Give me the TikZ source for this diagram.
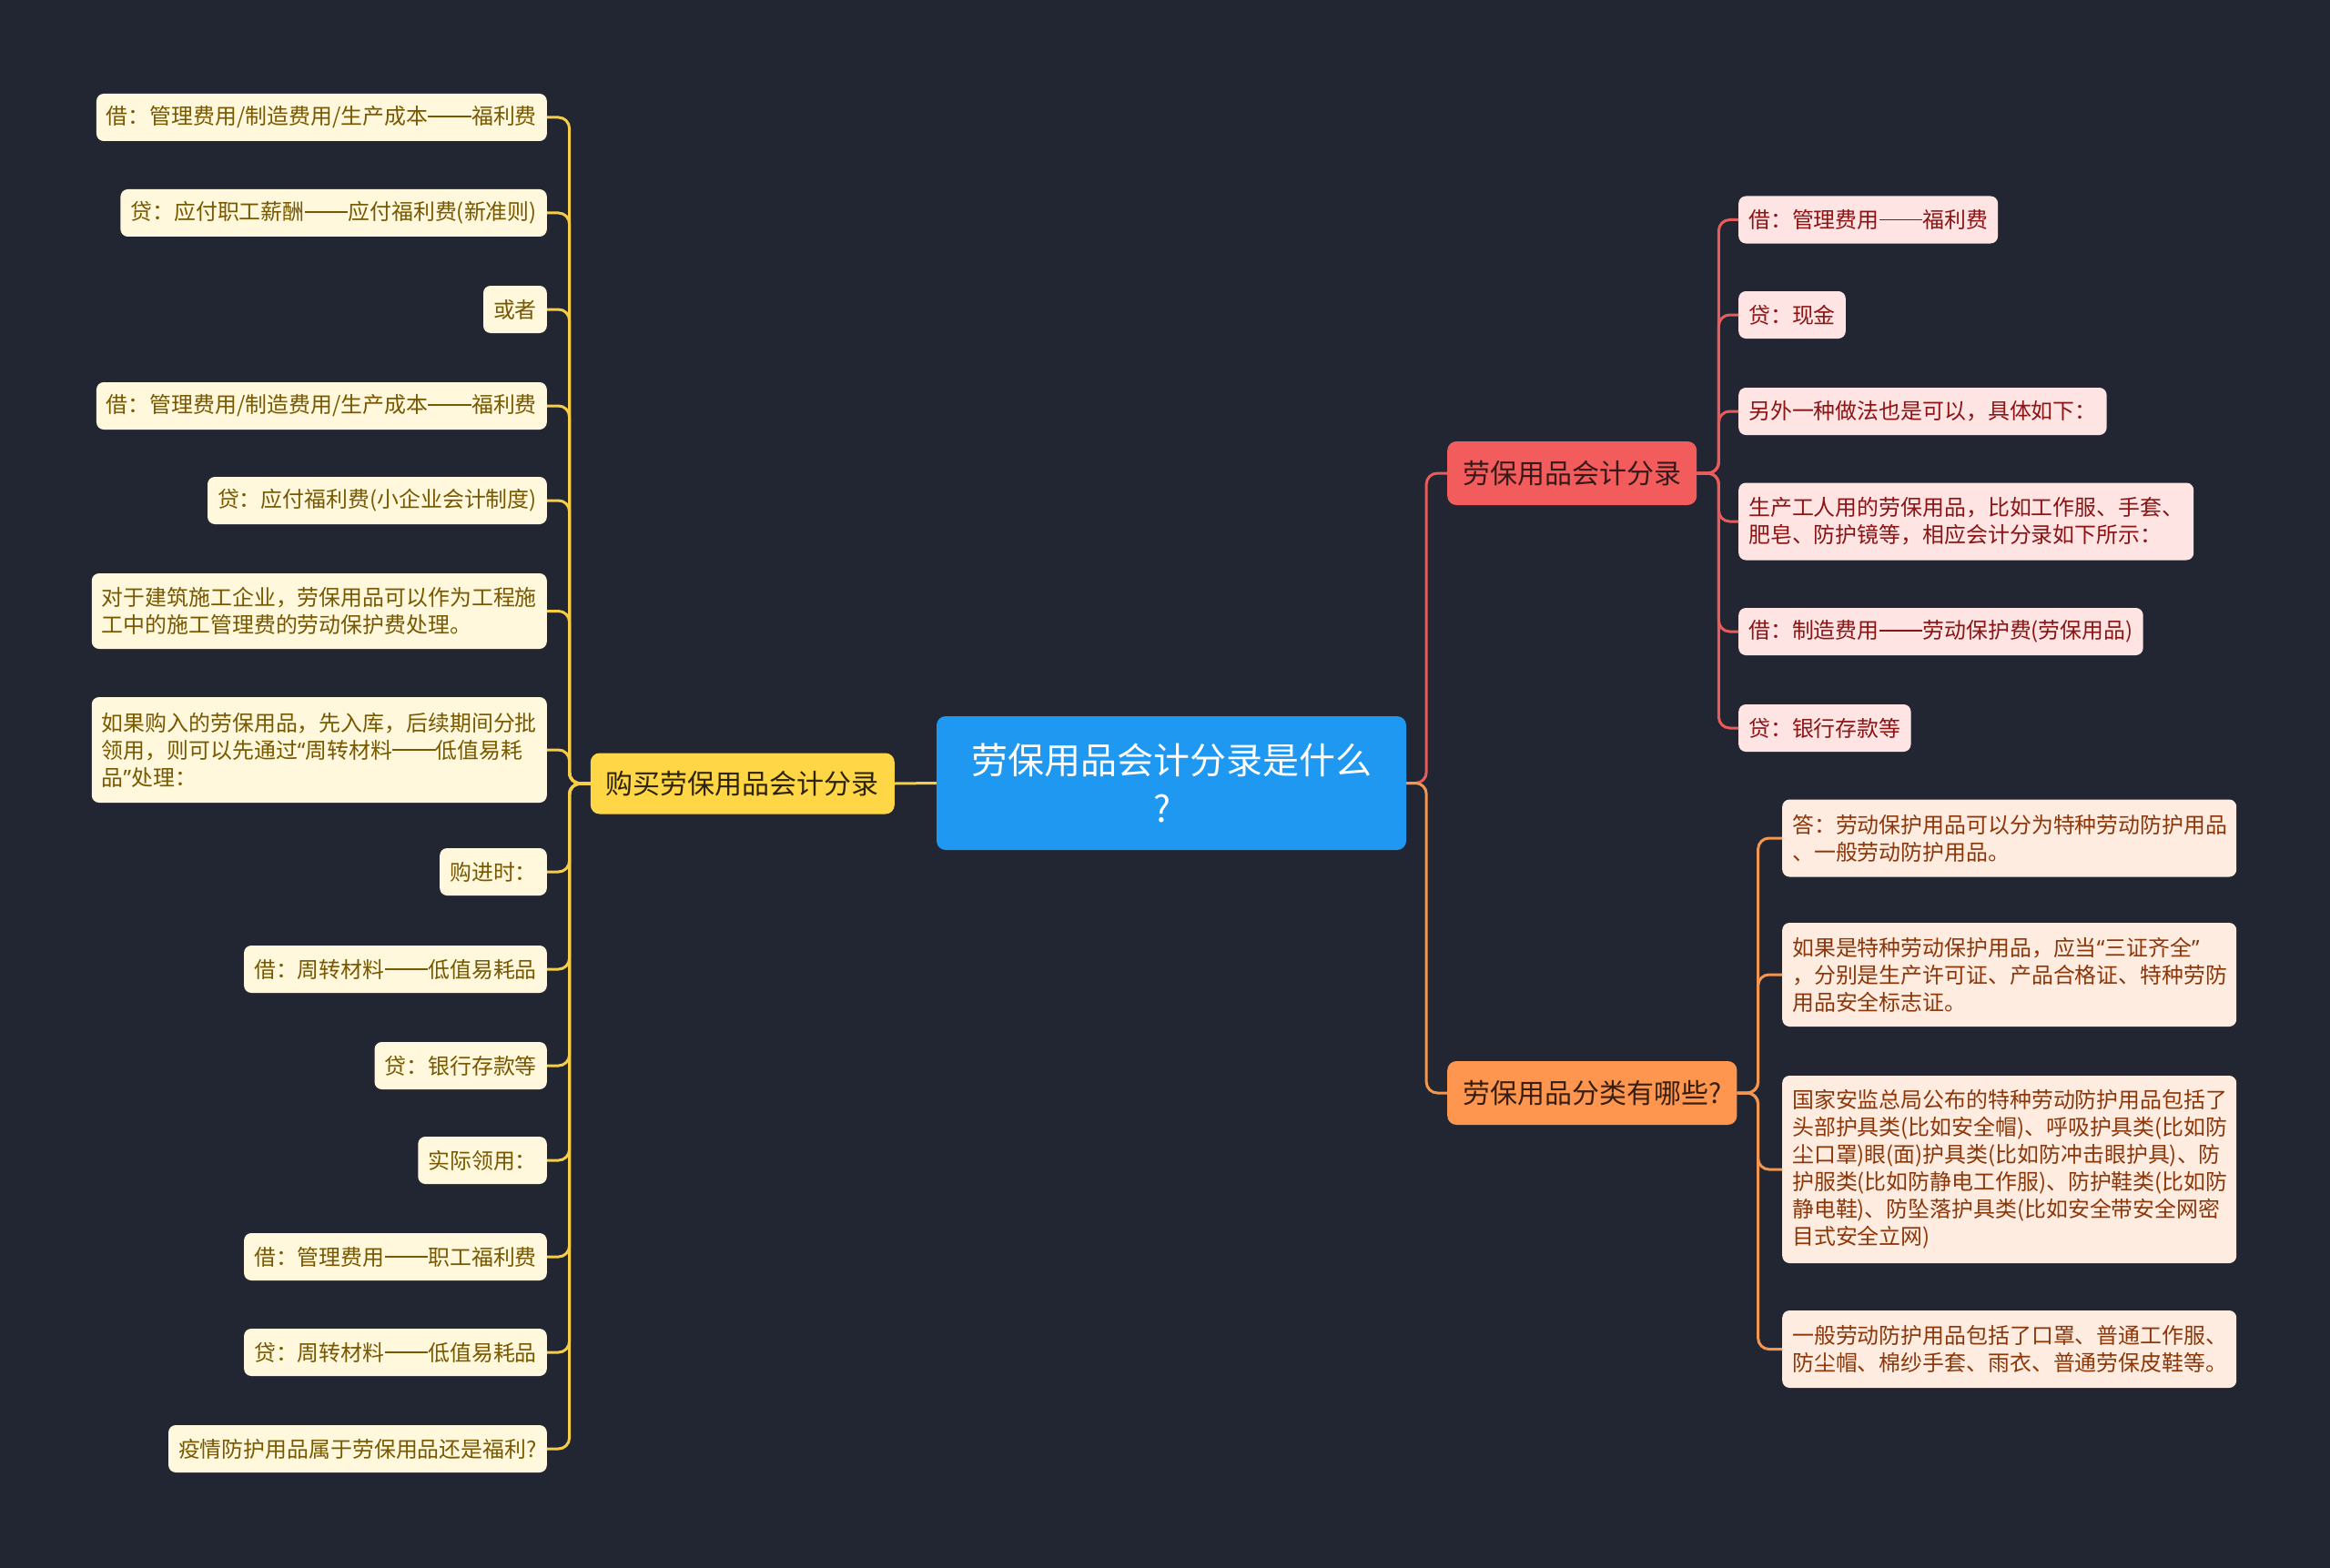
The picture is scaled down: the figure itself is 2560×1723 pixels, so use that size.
\documentclass[tikz,border=0pt]{standalone}
\usepackage{fontspec}
\setmainfont{Noto Sans CJK SC}
\newfontfamily\latinq{Noto Sans}
\newcommand{\dd}{\rule[0.34em]{2em}{0.07em}}
\newcommand{\myoq}{{\latinq “}}
\newcommand{\mycq}{{\latinq ”}}
\definecolor{bg}{RGB}{34,37,50}
\definecolor{cblue}{RGB}{30,152,240}
\definecolor{yfill}{RGB}{255,214,70}
\definecolor{ytext}{RGB}{45,35,10}
\definecolor{yline}{RGB}{245,205,70}
\definecolor{yleaf}{RGB}{255,248,220}
\definecolor{yleaftext}{RGB}{120,88,0}
\definecolor{rfill}{RGB}{243,92,92}
\definecolor{rtext}{RGB}{55,25,25}
\definecolor{rline}{RGB}{232,92,92}
\definecolor{rleaf}{RGB}{255,228,228}
\definecolor{rleaftext}{RGB}{140,20,20}
\definecolor{ofill}{RGB}{255,150,80}
\definecolor{otext}{RGB}{55,30,15}
\definecolor{oline}{RGB}{242,150,80}
\definecolor{oleaf}{RGB}{255,236,224}
\definecolor{oleaftext}{RGB}{140,55,10}
\begin{document}
\begin{tikzpicture}[x=1pt,y=-1pt,
  leaf/.style={rounded corners=8pt, inner xsep=11pt, inner ysep=4pt, minimum height=52pt, align=left, font=\fontsize{23.9}{30}\selectfont},
  yleafs/.style={leaf, fill=yleaf, text=yleaftext, anchor=east},
  rleafs/.style={leaf, fill=rleaf, text=rleaftext, anchor=west},
  oleafs/.style={leaf, fill=oleaf, text=oleaftext, anchor=west, text width=477pt},
  branch/.style={rounded corners=10pt, inner xsep=17pt, inner ysep=4pt, font=\fontsize{30}{36}\selectfont},
  conn/.style={line width=3pt, rounded corners=12pt},
]
\fill[bg] (0,0) rectangle (2560,1723);
\useasboundingbox (0,0) rectangle (2560,1723);

% central
\node[fill=cblue, text=white, rounded corners=10pt, minimum width=516pt, minimum height=147pt, align=center, font=\fontsize{40}{53}\selectfont] (c) at (1287,860.5) {劳保用品会计分录是什么\\\makebox[40pt][l]{?}};

% branches
\node[branch, fill=yfill, text=ytext, minimum height=67pt, anchor=east] (yb) at (983,861) {购买劳保用品会计分录};
\node[branch, fill=rfill, text=rtext, minimum height=70pt, anchor=west] (rb) at (1590,520) {劳保用品会计分录};
\node[branch, fill=ofill, text=otext, minimum height=70pt, anchor=west] (ob) at (1590,1201) {劳保用品分类有哪些?};

% left leaves
\node[yleafs] (l1) at (601,129) {借：管理费用/制造费用/生产成本\dd 福利费};
\node[yleafs] (l2) at (601,234) {贷：应付职工薪酬\dd 应付福利费(新准则)};
\node[yleafs] (l3) at (601,340) {或者};
\node[yleafs] (l4) at (601,446) {借：管理费用/制造费用/生产成本\dd 福利费};
\node[yleafs] (l5) at (601,550) {贷：应付福利费(小企业会计制度)};
\node[yleafs, minimum height=83pt] (l6) at (601,671.5) {对于建筑施工企业，劳保用品可以作为工程施\\工中的施工管理费的劳动保护费处理。};
\node[yleafs, minimum height=116pt] (l7) at (601,824) {如果购入的劳保用品，先入库，后续期间分批\\领用，则可以先通过\myoq 周转材料\dd 低值易耗\\品\mycq 处理：};
\node[yleafs] (l8) at (601,958) {购进时：};
\node[yleafs] (l9) at (601,1065) {借：周转材料\dd 低值易耗品};
\node[yleafs] (l10) at (601,1171) {贷：银行存款等};
\node[yleafs] (l11) at (601,1275) {实际领用：};
\node[yleafs] (l12) at (601,1381) {借：管理费用\dd 职工福利费};
\node[yleafs] (l13) at (601,1486) {贷：周转材料\dd 低值易耗品};
\node[yleafs] (l14) at (601,1592) {疫情防护用品属于劳保用品还是福利?};

% red leaves
\node[rleafs] (r1) at (1910,241.5) {借：管理费用\dd 福利费};
\node[rleafs] (r2) at (1910,346) {贷：现金};
\node[rleafs] (r3) at (1910,452) {另外一种做法也是可以，具体如下：};
\node[rleafs, minimum height=85pt] (r4) at (1910,573) {生产工人用的劳保用品，比如工作服、手套、\\肥皂、防护镜等，相应会计分录如下所示：};
\node[rleafs] (r5) at (1910,694) {借：制造费用\dd 劳动保护费(劳保用品)};
\node[rleafs] (r6) at (1910,800) {贷：银行存款等};

% orange leaves
\node[oleafs, minimum height=85pt] (o1) at (1958,921) {答：劳动保护用品可以分为特种劳动防护用品\\、一般劳动防护用品。};
\node[oleafs, minimum height=114pt] (o2) at (1958,1071) {如果是特种劳动保护用品，应当\myoq 三证齐全\mycq\\，分别是生产许可证、产品合格证、特种劳防\\用品安全标志证。};
\node[oleafs, minimum height=206pt] (o3) at (1958,1285) {国家安监总局公布的特种劳动防护用品包括了\\头部护具类(比如安全帽)、呼吸护具类(比如防\\尘口罩)眼(面)护具类(比如防冲击眼护具)、防\\护服类(比如防静电工作服)、防护鞋类(比如防\\静电鞋)、防坠落护具类(比如安全带安全网密\\目式安全立网)};
\node[oleafs, minimum height=85pt] (o4) at (1958,1482.5) {一般劳动防护用品包括了口罩、普通工作服、\\防尘帽、棉纱手套、雨衣、普通劳保皮鞋等。};

% connectors
\draw[conn, yline] (c.west) -- (yb.east);
\foreach \n in {l1,l2,l3,l4,l5,l6,l7,l8,l9,l10,l11,l12,l13,l14}
  \draw[conn, yline] (yb.west) -- ++(-23,0) |- (\n.east);
\draw[conn, rline] (c.east) -- ++(22,0) |- (rb.west);
\draw[conn, oline] (c.east) -- ++(22,0) |- (ob.west);
\foreach \n in {r1,r2,r3,r4,r5,r6}
  \draw[conn, rline] (rb.east) -- ++(24,0) |- (\n.west);
\foreach \n in {o1,o2,o3,o4}
  \draw[conn, oline] (ob.east) -- ++(23,0) |- (\n.west);
\end{tikzpicture}
\end{document}
